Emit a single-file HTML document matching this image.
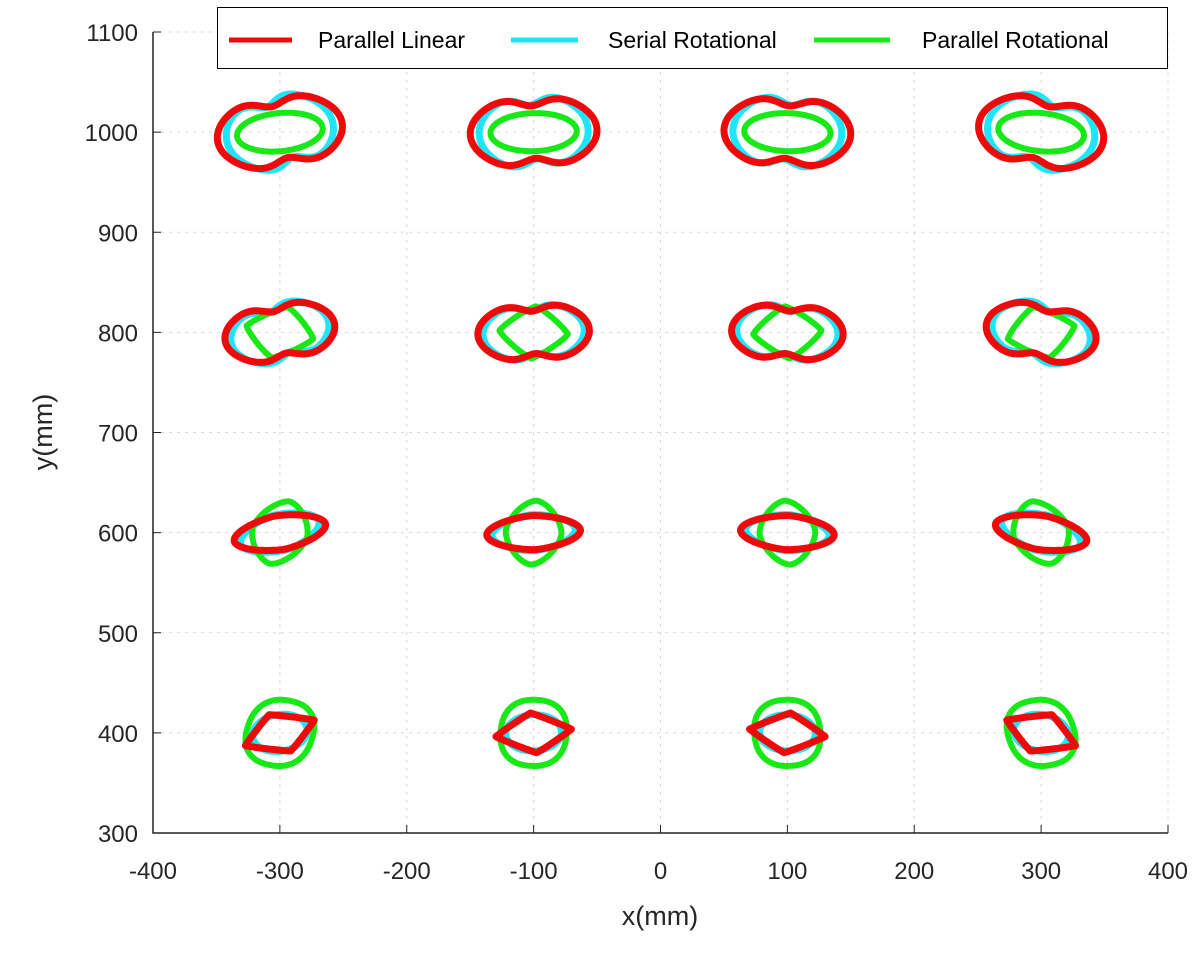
<!DOCTYPE html>
<html><head><meta charset="utf-8"><style>
body{margin:0;background:#fff;}
svg{display:block;font-family:"Liberation Sans",Arial,sans-serif;}
</style></head><body>
<svg id="chart" width="1202" height="957" viewBox="0 0 1202 957" xmlns="http://www.w3.org/2000/svg">
<g id="grid"></g>
<g id="series"></g>
<g id="axes"></g>
<text x="660" y="925" font-size="27" text-anchor="middle" fill="#262626">x(mm)</text>
<text transform="translate(52,432) rotate(-90)" font-size="27" text-anchor="middle" fill="#262626">y(mm)</text>
<g>
<rect x="217.5" y="7.5" width="950" height="61" fill="#fff" stroke="#000" stroke-width="1"/>
<line x1="229" y1="40" x2="292" y2="40" stroke="#ee0a0a" stroke-width="5"/>
<text x="318" y="48" font-size="23" fill="#000">Parallel Linear</text>
<line x1="511" y1="40" x2="578" y2="40" stroke="#1ee6f8" stroke-width="5"/>
<text x="608" y="48" font-size="23" fill="#000">Serial Rotational</text>
<line x1="814" y1="40" x2="890" y2="40" stroke="#18e818" stroke-width="5"/>
<text x="922" y="48" font-size="23" fill="#000">Parallel Rotational</text>
</g>
</svg>
<script>
const xTicks=[-400,-300,-200,-100,0,100,200,300,400];
const yTicks=[300,400,500,600,700,800,900,1000,1100];
const xCenters=[-300,-100,100,300];
const yCenters=[1000,800,600,400];
const colTilt=[14,4,-4,-14];
// per-row shape params (mm): half width, half height, shape type
const redA=[50,44,37,30];
const redB=[32,26,17,20];
const redShape=['peanut','peanut','lens','diamond'];
const cyanA=[43,40,33,22];
const cyanB=[33,26,18,18];
const cyanShape=['peanut','peanut','lens','ellipse'];
const greenA=[34,27,22,26];
const greenB=[19,26,32,33];
const greenShape=['ellipse','diamondish','roundish','round'];

const X0=153,X1=1168,Y0=833,Y1=32;
const sx=v=>X0+(v+400)/800*(X1-X0);
const sy=v=>Y0-(v-300)/800*(Y0-Y1);
const NS='http://www.w3.org/2000/svg';
function mk(tag,attrs,parent){const e=document.createElementNS(NS,tag);for(const k in attrs)e.setAttribute(k,attrs[k]);parent.appendChild(e);return e;}
const grid=document.getElementById('grid'),axes=document.getElementById('axes'),series=document.getElementById('series');
xTicks.forEach(t=>{
  const l=mk('line',{x1:sx(t),x2:sx(t),y1:Y1,y2:Y0,stroke:'#d8d8d8','stroke-dasharray':'3,5'},grid);
  
  
  const tk=mk('line',{x1:sx(t),x2:sx(t),y1:Y0,y2:Y0-8,stroke:'#222'},axes);
  
  
  const tx=mk('text',{x:sx(t),y:879,'font-size':24,'text-anchor':'middle',fill:'#262626'},axes);
  tx.textContent=t;
  
  
});
yTicks.forEach(t=>{
  const l=mk('line',{x1:X0,x2:X1,y1:sy(t),y2:sy(t),stroke:'#d8d8d8','stroke-dasharray':'3,5'},grid);
  
  
  const tk=mk('line',{x1:X0,x2:X0+8,y1:sy(t),y2:sy(t),stroke:'#222'},axes);
  
  
  const tx=mk('text',{x:138,y:sy(t)+9,'font-size':24,'text-anchor':'end',fill:'#262626'},axes);
  tx.textContent=t;
  
  
});
const ax=mk('path',{d:`M${X0},${Y1}V${Y0}H${X1}`,fill:'none',stroke:'#222','stroke-width':1.5},axes);



function shapePts(kind,a,b){
  const pts=[];
  const sp=(v,e)=>Math.sign(v)*Math.pow(Math.abs(v),e);
  for(let i=0;i<200;i++){
    const t=i/200*2*Math.PI,c=Math.cos(t),s=Math.sin(t);
    let x,y;
    if(kind==='peanut'){x=a*sp(c,1.15);y=b*s*(1-0.33*Math.exp(-Math.pow(c/0.38,2)));}
    else if(kind==='lens'){x=a*sp(c,1.3);y=b*sp(s,1.05);}
    else if(kind==='diamond'){x=a*sp(c,1.9);y=b*sp(s,1.9);}
    else if(kind==='diamondish'){x=a*sp(c,1.7);y=b*sp(s,1.7);}
    else if(kind==='roundish'){x=a*sp(c,1.25);y=b*sp(s,1.25);}
    else if(kind==='round'){x=a*sp(c,0.85);y=b*sp(s,0.85);}
    else {x=a*c;y=b*s;}
    pts.push([x,y]);
  }
  const mx=Math.max(...pts.map(p=>Math.abs(p[0]))),my=Math.max(...pts.map(p=>Math.abs(p[1])));
  return pts.map(p=>[p[0]*a/mx,p[1]*b/my]);
}
function draw(kind,a,b,cx,cy,tilt,color,w,name){
  const r=tilt*Math.PI/180;
  const d=shapePts(kind,a,b).map((p,i)=>{
    const x=p[0]*Math.cos(r)-p[1]*Math.sin(r),y=p[0]*Math.sin(r)+p[1]*Math.cos(r);
    return (i?'L':'M')+sx(cx+x).toFixed(1)+','+sy(cy+y).toFixed(1);
  }).join('')+'Z';
  const p=mk('path',{d,fill:'none',stroke:color,'stroke-width':w,'stroke-linejoin':'round'},series);
  
  
}
yCenters.forEach((cy,ri)=>xCenters.forEach((cx,ci)=>{
  draw(cyanShape[ri],cyanA[ri],cyanB[ri],cx,cy,colTilt[ci]*1.6,'#1ee6f8',7,'serial-rotational-loop');
  draw(greenShape[ri],greenA[ri],greenB[ri],cx,cy,colTilt[ci]*(ri===0?0.6:-1),'#18e818',6,'parallel-rotational-loop');
  draw(redShape[ri],redA[ri],redB[ri],cx,cy,colTilt[ci]*(ri===3?1.8:1),'#ee0a0a',7,'parallel-linear-loop');
}));
</script>
</body></html>
